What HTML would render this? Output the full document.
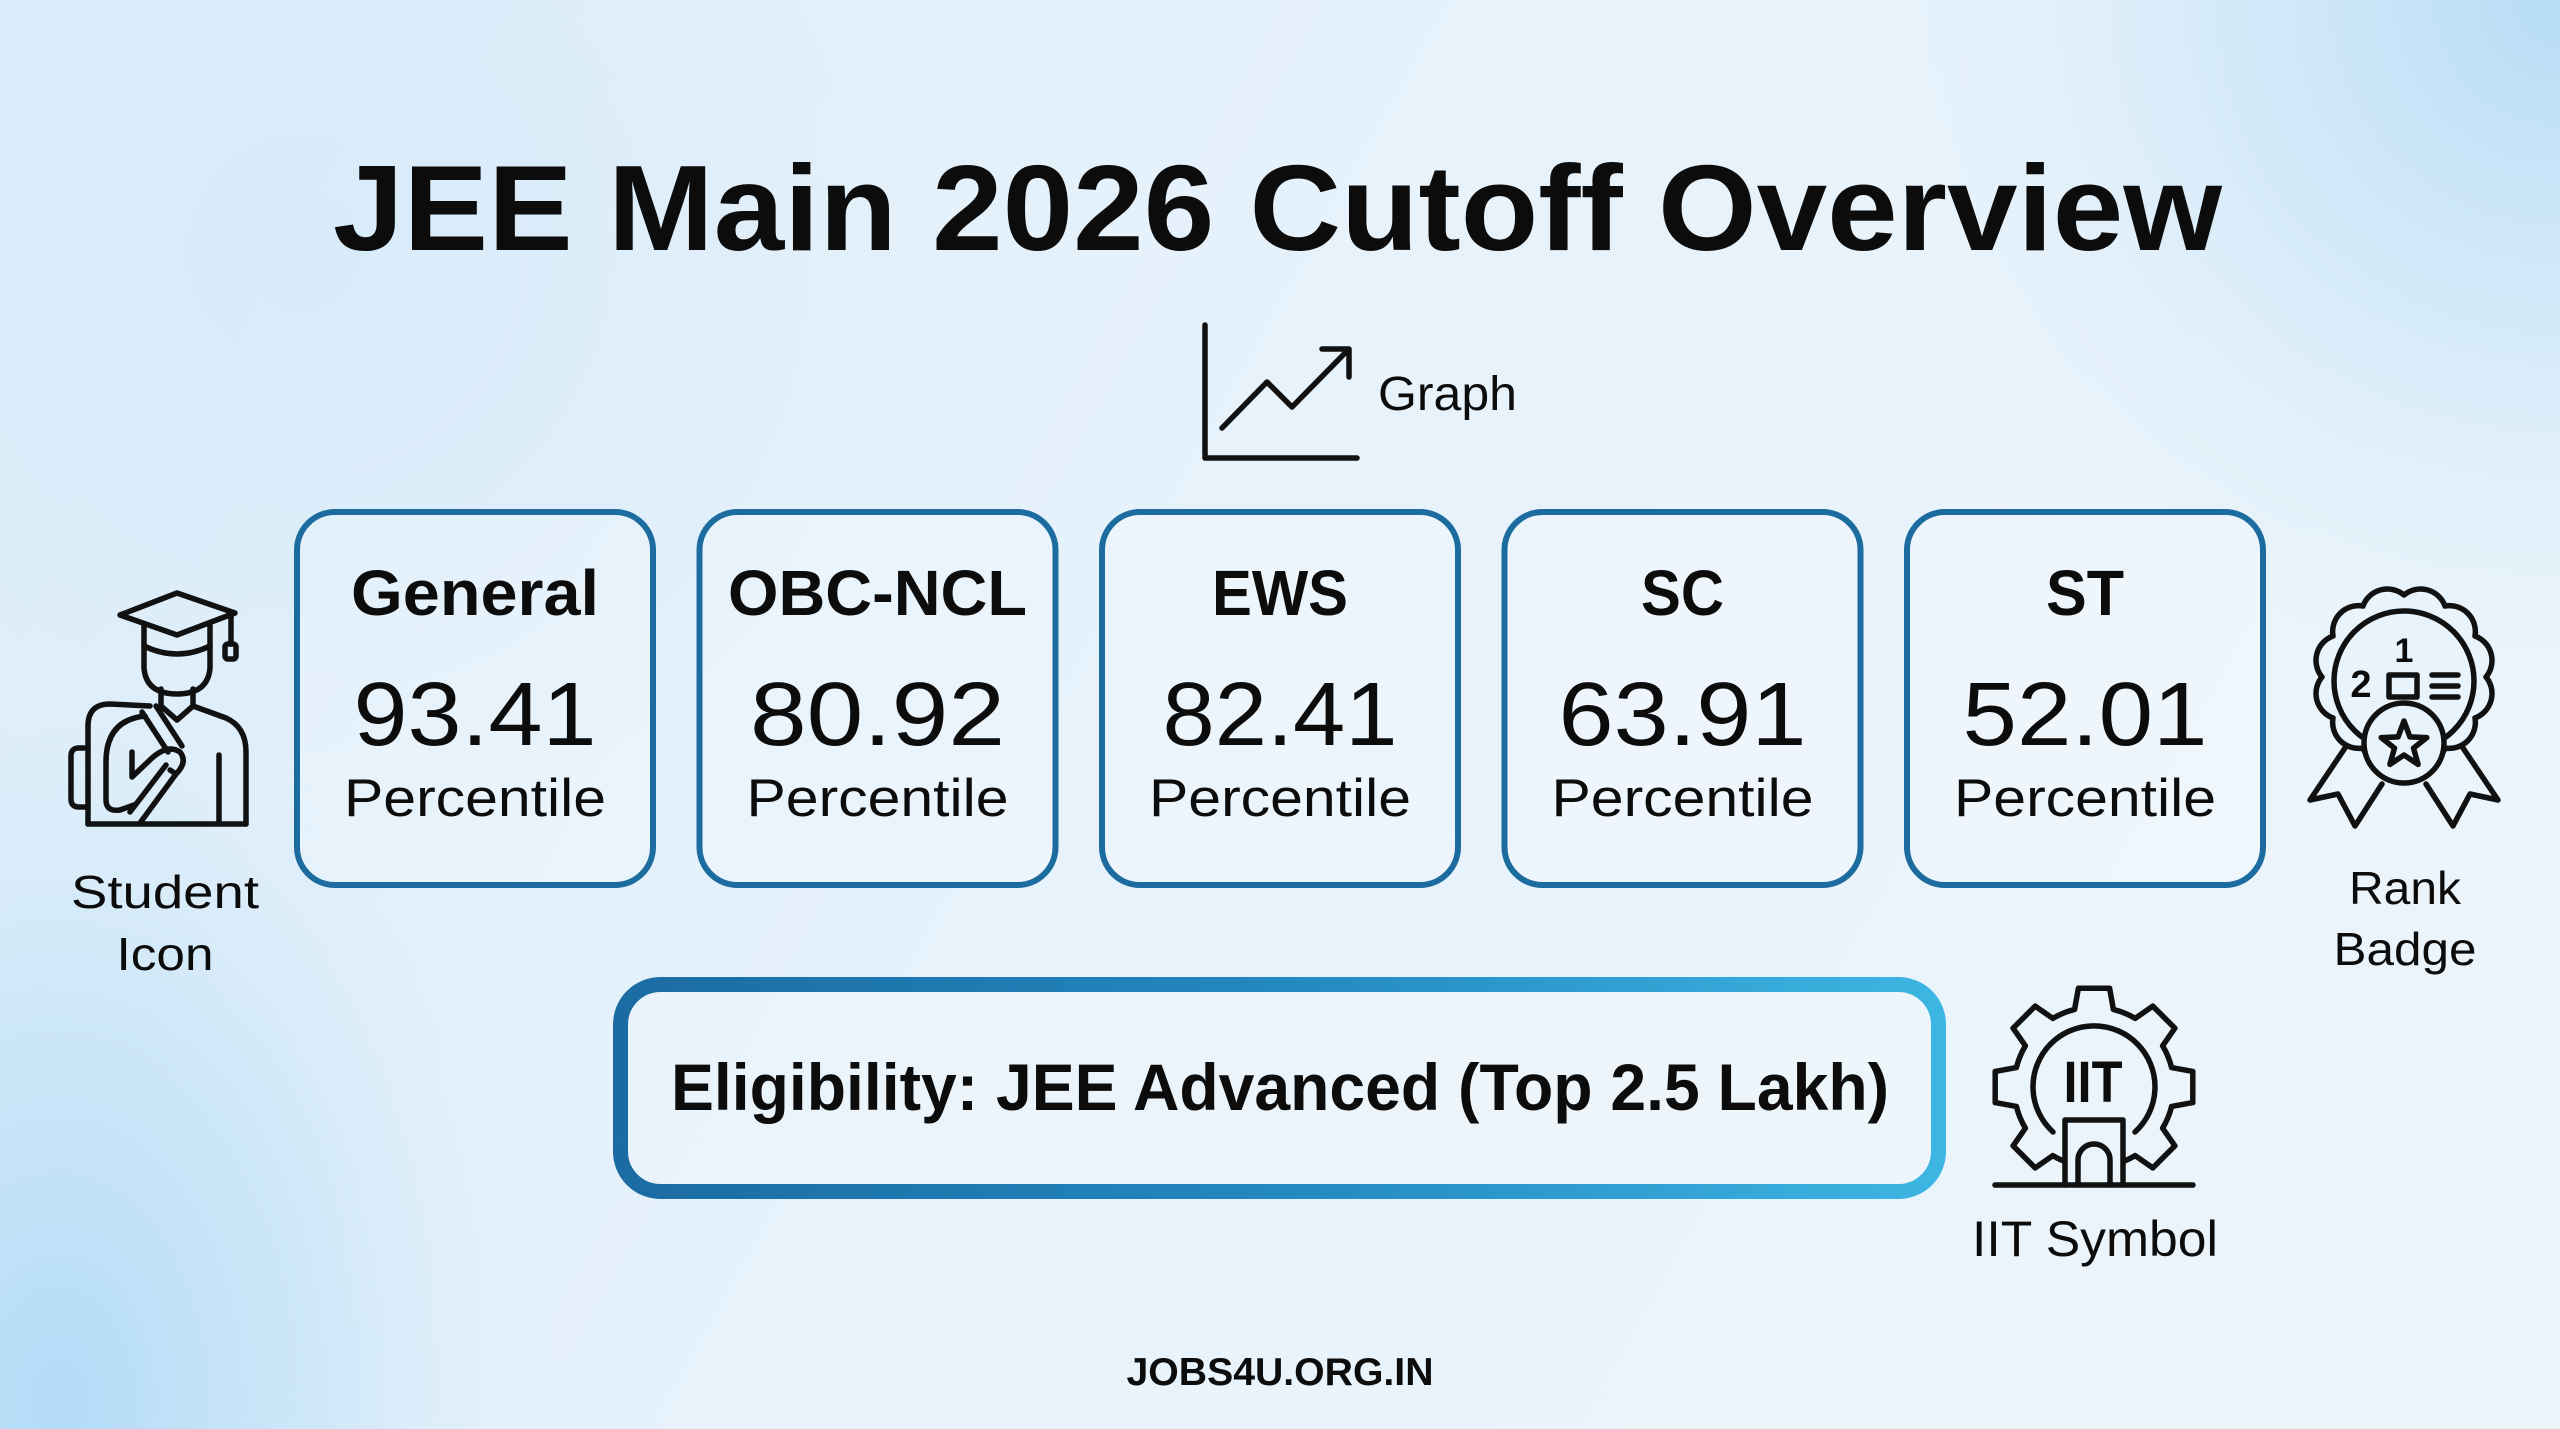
<!DOCTYPE html>
<html>
<head>
<meta charset="utf-8">
<style>
html,body{margin:0;padding:0;width:2560px;height:1429px;overflow:hidden;background:#e6f2fb;}
svg{display:block}
text{font-family:"Liberation Sans",sans-serif;fill:#0c0c0c}
.b{font-weight:bold}
.ic{fill:none;stroke:#111;stroke-width:5.5;stroke-linecap:round;stroke-linejoin:round}
</style>
</head>
<body>
<svg width="2560" height="1429" viewBox="0 0 2560 1429" xmlns="http://www.w3.org/2000/svg">
<defs>
  <linearGradient id="base" x1="0" y1="0" x2="2560" y2="1429" gradientUnits="userSpaceOnUse">
    <stop offset="0" stop-color="#dcedf9"/>
    <stop offset="0.45" stop-color="#e7f2fb"/>
    <stop offset="1" stop-color="#edf5fb"/>
  </linearGradient>
  <radialGradient id="bl" cx="60" cy="1400" r="620" gradientUnits="userSpaceOnUse" gradientTransform="translate(60 1400) scale(0.8 1.2) translate(-60 -1400)">
    <stop offset="0" stop-color="#b2daf7" stop-opacity="1"/>
    <stop offset="0.5" stop-color="#c3e3f8" stop-opacity="0.7"/>
    <stop offset="1" stop-color="#d8ecfa" stop-opacity="0"/>
  </radialGradient>
  <radialGradient id="tr" cx="2560" cy="0" r="700" gradientUnits="userSpaceOnUse">
    <stop offset="0" stop-color="#b6dcf6" stop-opacity="1"/>
    <stop offset="0.5" stop-color="#c8e5f8" stop-opacity="0.6"/>
    <stop offset="1" stop-color="#dcedfa" stop-opacity="0"/>
  </radialGradient>
  <radialGradient id="tl" cx="300" cy="250" r="600" gradientUnits="userSpaceOnUse">
    <stop offset="0" stop-color="#d6eaf9" stop-opacity="0.8"/>
    <stop offset="1" stop-color="#d6eaf9" stop-opacity="0"/>
  </radialGradient>
  <linearGradient id="elig" x1="613" y1="0" x2="1946" y2="0" gradientUnits="userSpaceOnUse">
    <stop offset="0" stop-color="#1b6ba2"/>
    <stop offset="0.5" stop-color="#2388bf"/>
    <stop offset="1" stop-color="#3db6e3"/>
  </linearGradient>
</defs>

<!-- background -->
<rect x="0" y="0" width="2560" height="1429" fill="url(#base)"/>
<rect x="0" y="0" width="2560" height="1429" fill="url(#tl)"/>
<rect x="0" y="0" width="2560" height="1429" fill="url(#bl)"/>
<rect x="0" y="0" width="2560" height="1429" fill="url(#tr)"/>

<!-- title -->
<text class="b" x="333" y="250" font-size="122" textLength="1889" lengthAdjust="spacingAndGlyphs">JEE Main 2026 Cutoff Overview</text>

<!-- graph icon -->
<path class="ic" d="M1205,325 L1205,458 L1357,458" stroke-width="6"/>
<polyline class="ic" points="1222,428 1267,382 1292,407 1348,350" stroke-width="6"/>
<polyline class="ic" points="1322,349 1349,349 1349,377" stroke-width="6"/>
<text x="1378" y="410" font-size="48" textLength="139" lengthAdjust="spacingAndGlyphs">Graph</text>

<!-- cards -->
<g fill="rgba(255,255,255,0.22)" stroke="#1d6c9f" stroke-width="6">
  <rect x="297" y="512" width="356" height="373" rx="38"/>
  <rect x="699.5" y="512" width="356" height="373" rx="38"/>
  <rect x="1102" y="512" width="356" height="373" rx="38"/>
  <rect x="1504.5" y="512" width="356" height="373" rx="38"/>
  <rect x="1907" y="512" width="356" height="373" rx="38"/>
</g>
<g text-anchor="middle">
  <text class="b" x="475" y="615" font-size="64" textLength="248" lengthAdjust="spacingAndGlyphs">General</text>
  <text class="b" x="877.5" y="615" font-size="64" textLength="299" lengthAdjust="spacingAndGlyphs">OBC-NCL</text>
  <text class="b" x="1280" y="615" font-size="64" textLength="136" lengthAdjust="spacingAndGlyphs">EWS</text>
  <text class="b" x="1682.5" y="615" font-size="64" textLength="83" lengthAdjust="spacingAndGlyphs">SC</text>
  <text class="b" x="2085" y="615" font-size="64" textLength="78" lengthAdjust="spacingAndGlyphs">ST</text>

  <text x="475" y="745" font-size="90" textLength="243" lengthAdjust="spacingAndGlyphs">93.41</text>
  <text x="877.5" y="745" font-size="90" textLength="255" lengthAdjust="spacingAndGlyphs">80.92</text>
  <text x="1280" y="745" font-size="90" textLength="235" lengthAdjust="spacingAndGlyphs">82.41</text>
  <text x="1682.5" y="745" font-size="90" textLength="248" lengthAdjust="spacingAndGlyphs">63.91</text>
  <text x="2085" y="745" font-size="90" textLength="245" lengthAdjust="spacingAndGlyphs">52.01</text>

  <text x="475" y="816" font-size="53" textLength="262" lengthAdjust="spacingAndGlyphs">Percentile</text>
  <text x="877.5" y="816" font-size="53" textLength="262" lengthAdjust="spacingAndGlyphs">Percentile</text>
  <text x="1280" y="816" font-size="53" textLength="262" lengthAdjust="spacingAndGlyphs">Percentile</text>
  <text x="1682.5" y="816" font-size="53" textLength="262" lengthAdjust="spacingAndGlyphs">Percentile</text>
  <text x="2085" y="816" font-size="53" textLength="262" lengthAdjust="spacingAndGlyphs">Percentile</text>
</g>

<!-- student icon -->
<g class="ic">
  <path d="M120,615 L177,593 L235,613 L177,635 Z"/>
  <path d="M231,614 L231,644"/>
  <rect x="225" y="644" width="11" height="15" rx="3"/>
  <path d="M144,624 L144,646 M210,624 L210,646"/>
  <path d="M144,646 Q177,662 210,646"/>
  <path d="M144,646 L144,668 Q146,694 177,694 Q208,694 210,668 L210,646"/>
  <path d="M161,689 L161,706 M193,689 L193,706"/>
  <path d="M161,706 L177,720 L193,706"/>
  <path d="M193,706 L226,718 Q246,727 246,752 L246,824"/>
  <path d="M88,824 L246,824"/>
  <path d="M219,755 L219,822"/>
  <path d="M150,706 L110,704 Q88,704 88,726 L88,824"/>
  <path d="M145,716 Q106,720 106,762 L106,800 Q106,812 120,810 L134,805"/>
  <path d="M88,748 L79,748 Q71,748 71,756 L71,799 Q71,807 79,807 L88,807"/>
  <path d="M142,712 L168,752 M156,706 L182,746"/>
  <path d="M132,752 L132,777 L152,758 Q168,744 180,752 Q188,762 176,774 L170,770"/>
  <path d="M176,774 L140,823 M166,765 L130,812"/>
</g>
<text x="165" y="908" font-size="46" text-anchor="middle" textLength="188" lengthAdjust="spacingAndGlyphs">Student</text>
<text x="165" y="970" font-size="46" text-anchor="middle" textLength="97" lengthAdjust="spacingAndGlyphs">Icon</text>

<!-- rank badge -->
<g class="ic">
  <polyline points="2345,748 2310,800 2338,794 2355,826 2382,784"/>
  <polyline points="2463,748 2498,800 2470,794 2453,826 2426,784"/>
  <path fill="#e8f3fb" d="M2486,677 A26,26 0 0 1 2475,718 A26,26 0 0 1 2445,748 A26,26 0 0 1 2404,759 A26,26 0 0 1 2363,748 A26,26 0 0 1 2333,718 A26,26 0 0 1 2322,677 A26,26 0 0 1 2333,636 A26,26 0 0 1 2363,606 A26,26 0 0 1 2404,595 A26,26 0 0 1 2445,606 A26,26 0 0 1 2475,636 A26,26 0 0 1 2486,677 Z"/>
  <circle cx="2404" cy="681" r="70"/>
  <rect x="2389" y="675" width="28" height="22"/>
  <path d="M2432,675 L2458,675 M2432,686 L2458,686 M2432,697 L2458,697"/>
  <circle cx="2404" cy="743" r="40" fill="#e8f3fb"/>
  <polygon points="2404,721 2409.9,736.9 2426.8,737.6 2413.5,748.1 2418.1,764.4 2404,755 2389.9,764.4 2394.5,748.1 2381.2,737.6 2398.1,736.9"/>
</g>
<text class="b" x="2404" y="662" font-size="34" text-anchor="middle">1</text>
<text class="b" x="2361" y="697" font-size="38" text-anchor="middle">2</text>
<text x="2405" y="904" font-size="46" text-anchor="middle" textLength="112" lengthAdjust="spacingAndGlyphs">Rank</text>
<text x="2405" y="965" font-size="46" text-anchor="middle" textLength="143" lengthAdjust="spacingAndGlyphs">Badge</text>

<!-- eligibility box -->
<rect x="620.5" y="984.5" width="1318" height="207" rx="40" fill="rgba(255,255,255,0.18)" stroke="url(#elig)" stroke-width="15"/>
<text class="b" x="1280" y="1110" font-size="66" text-anchor="middle" textLength="1218" lengthAdjust="spacingAndGlyphs">Eligibility: JEE Advanced (Top 2.5 Lakh)</text>

<!-- IIT icon -->
<g class="ic" stroke-width="6.5">
  <path d="M2064,1161.2 A80,80 0 0 1 2052.8,1155.6 L2035.2,1167.9 L2013.1,1145.8 L2025.4,1128.2 A80,80 0 0 1 2016.4,1106.4 L1995.2,1102.6 L1995.2,1071.4 L2016.4,1067.6 A80,80 0 0 1 2025.4,1045.8 L2013.1,1028.2 L2035.2,1006.1 L2052.8,1018.4 A80,80 0 0 1 2074.6,1009.4 L2078.4,988.2 L2109.6,988.2 L2113.4,1009.4 A80,80 0 0 1 2135.2,1018.4 L2152.8,1006.1 L2174.9,1028.2 L2162.6,1045.8 A80,80 0 0 1 2171.6,1067.6 L2192.8,1071.4 L2192.8,1102.6 L2171.6,1106.4 A80,80 0 0 1 2162.6,1128.2 L2174.9,1145.8 L2152.8,1167.9 L2135.2,1155.6 A80,80 0 0 1 2124,1161.2"/>
  <path d="M2053,1132 A61,61 0 1 1 2135,1132"/>
  <path d="M2065,1185 L2065,1120 L2123,1120 L2123,1185"/>
  <path d="M2078,1185 L2078,1160 A16,16 0 0 1 2110,1160 L2110,1185"/>
  <path d="M1995,1185 L2193,1185"/>
</g>
<text class="b" x="2093" y="1102" font-size="58" text-anchor="middle" textLength="59" lengthAdjust="spacingAndGlyphs">IIT</text>
<text x="2095" y="1256" font-size="50" text-anchor="middle" textLength="246" lengthAdjust="spacingAndGlyphs">IIT Symbol</text>

<!-- footer -->
<text class="b" x="1280" y="1385" font-size="39" text-anchor="middle" textLength="307" lengthAdjust="spacingAndGlyphs">JOBS4U.ORG.IN</text>
</svg>
</body>
</html>
